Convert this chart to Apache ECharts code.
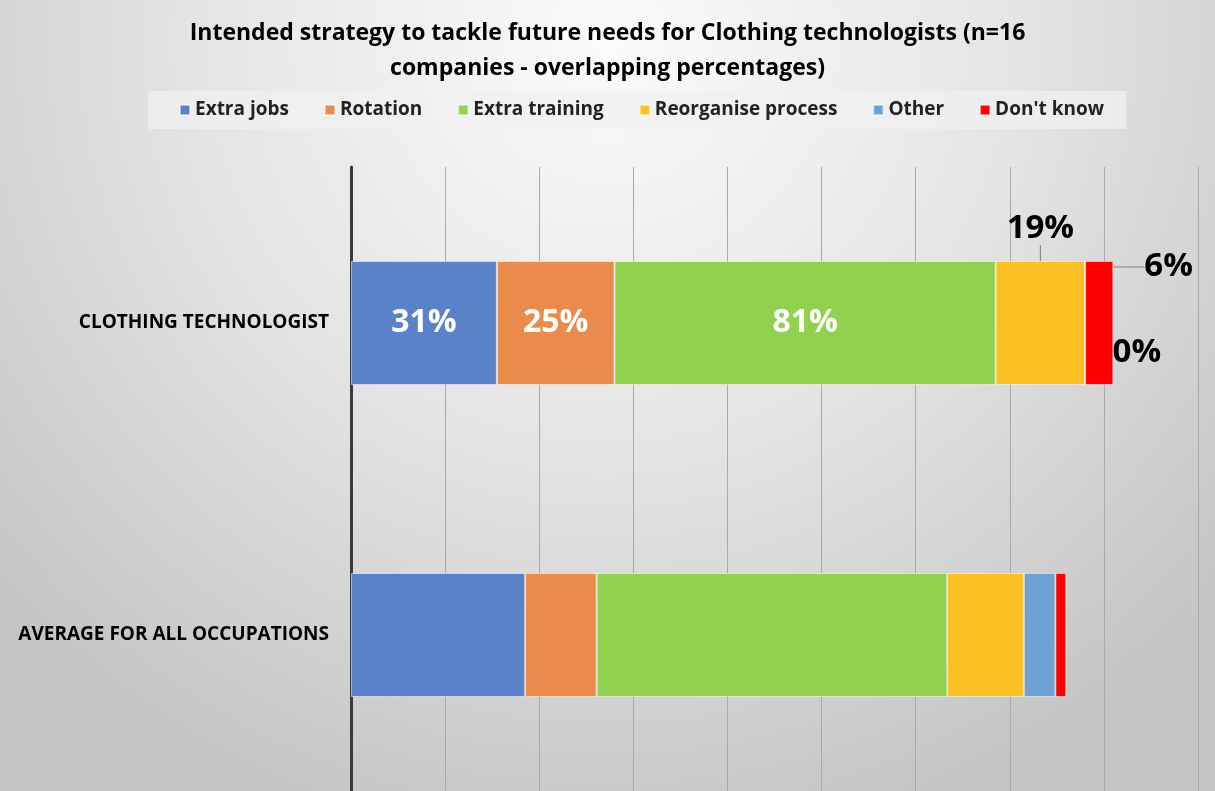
<!DOCTYPE html>
<html>
<head>
<meta charset="utf-8">
<script src="https://cdn.jsdelivr.net/npm/echarts@6/dist/echarts.min.js"></script>
<style>
  html, body { margin: 0; padding: 0; }
  .demo { width: 1215px; height: 791px; }
</style>
</head>
<body>
<div class="demo"></div>
<script>
// categories (top to bottom)
const categories = ['CLOTHING TECHNOLOGIST', 'AVERAGE FOR ALL OCCUPATIONS']
const seriesNames = ['Extra jobs', 'Rotation', 'Extra training', 'Reorganise process', 'Other', "Don't know"]
const colors = ['#5982c9', '#ea8a4b', '#92d050', '#fac124', '#6fa2d4', '#ff0000']

// values in %, one array per strategy: [clothing technologist, average]
const extraJobs = [31, 37]
const rotation = [25, 15.2]
const extraTraining = [81, 74.5]
const reorganise = [19, 16.3]
const other = [0, 6.7]
const dontKnow = [6, 2.3]
const values = [extraJobs, rotation, extraTraining, reorganise, other, dontKnow]

// x axis ticks: 0..180 step 20 (labels fall below the visible area)
const xMin = 0
const xMax = 180
const xStep = 20

// how each clothing technologist label is drawn
const labelStyles = [
  { position: 'inside', color: '#fff', fontSize: 32 },
  { position: 'inside', color: '#fff', fontSize: 32 },
  { position: 'inside', color: '#fff', fontSize: 32 },
  { position: 'top', color: '#000', fontSize: 33, distance: 4, dy: -12, line: true },
  { position: 'right', color: '#000', fontSize: 33, dx: 22, dy: 30, line: true },
  { position: 'right', color: '#000', fontSize: 33, dx: 26, dy: -56, line: true }
]

let myChart = echarts.init(document.querySelector('.demo'))

let series = seriesNames.map((name, i) => {
  let st = labelStyles[i]
  return {
    name: name,
    type: 'bar',
    stack: 'total',
    barWidth: 124,
    itemStyle: { color: colors[i], borderColor: 'rgba(255,255,255,0.5)', borderWidth: 1 },
    labelLine: { show: !!st.line, lineStyle: { color: '#7f7f7f', width: 1 } },
    labelLayout: (st.dx || st.dy) ? function (p) {
      return p.dataIndex === 0 ? { dx: st.dx || 0, dy: st.dy || 0 } : {}
    } : null,
    data: values[i].map((v, j) => ({
      value: v,
      label: {
        show: j === 0,
        position: st.position,
        distance: st.distance || 5,
        formatter: '{c}%',
        color: st.color,
        fontSize: st.fontSize,
        fontWeight: 'bold',
        fontFamily: 'Open Sans'
      }
    }))
  }
})

let option = {
  backgroundColor: {
    type: 'radial', x: 0.5, y: 0.05, r: 1.05,
    colorStops: [
      { offset: 0, color: '#fbfbfb' },
      { offset: 0.5, color: '#e4e4e4' },
      { offset: 1, color: '#c4c4c4' }
    ]
  },
  color: colors,
  title: {
    text: 'Intended strategy to tackle future needs for Clothing technologists (n=16\ncompanies - overlapping percentages)',
    left: 'center',
    top: 11,
    textStyle: {
      fontFamily: 'Open Sans', fontWeight: 'bold', fontSize: 23,
      color: '#000', lineHeight: 35
    }
  },
  legend: {
    left: 148,
    top: 91,
    padding: [9, 22, 9, 31],
    backgroundColor: 'rgba(240,240,240,0.75)',
    itemWidth: 10,
    itemHeight: 10,
    itemGap: 35,
    icon: 'rect',
    textStyle: { fontFamily: 'Open Sans', fontWeight: 'bold', fontSize: 19, color: '#222', lineHeight: 20 },
    data: seriesNames
  },
  grid: { left: 351, right: 17, top: 167, bottom: 0 },
  xAxis: {
    type: 'value',
    min: xMin,
    max: xMax,
    interval: xStep,
    axisLabel: { show: false },
    axisLine: { show: false },
    axisTick: { show: false },
    splitLine: { lineStyle: { color: '#a9a9a9', width: 1 } }
  },
  yAxis: {
    type: 'category',
    inverse: true,
    data: categories,
    axisTick: { show: false },
    axisLine: { lineStyle: { color: '#3a3a3a', width: 3 } },
    axisLabel: {
      margin: 22,
      fontFamily: 'Open Sans', fontWeight: 'bold', fontSize: 19, color: '#000'
    }
  },
  series: series
}

myChart.setOption(option)
</script>
</body>
</html>
